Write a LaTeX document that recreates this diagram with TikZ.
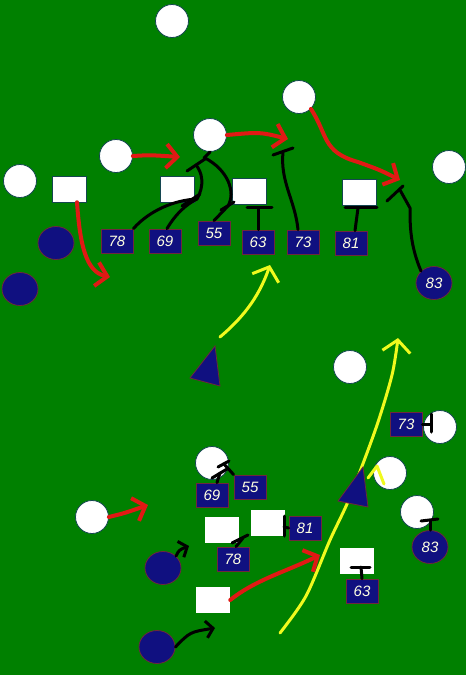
\documentclass[tikz,border=0pt]{standalone}
\usepackage{fontspec}
\setmainfont{Liberation Sans}
\usetikzlibrary{arrows.meta,shapes.geometric}
\definecolor{field}{RGB}{0,128,0}
\definecolor{navyb}{RGB}{16,16,128}
\definecolor{boxedge}{RGB}{110,40,60}
\definecolor{circedge}{RGB}{20,70,80}
\definecolor{redp}{RGB}{225,25,20}
\definecolor{yelp}{RGB}{240,250,30}
\definecolor{numtxt}{RGB}{255,255,225}
\tikzset{
 wcirc/.style={circle,fill=white,draw=circedge,line width=0.8pt,minimum size=33pt,inner sep=0pt},
 wsq/.style={rectangle,fill=white,draw=circedge,line width=0.5pt,minimum width=34pt,minimum height=26pt,inner sep=0pt},
 numfont/.style={text=numtxt,font=\itshape\fontsize{15}{15}\selectfont},
 bcirc/.style={ellipse,fill=navyb,draw=boxedge,line width=0.8pt,minimum width=36pt,minimum height=33pt,inner sep=0pt,numfont},
 nbox/.style={rectangle,fill=navyb,draw=boxedge,line width=0.8pt,minimum width=32pt,minimum height=24pt,inner sep=0pt,numfont},
 redarr/.style={draw=redp,line width=4pt,line cap=round,line join=round,-{Straight Barb[length=11pt,width=24pt]}},
 blk/.style={draw=black,line width=3pt,line cap=round,line join=round},
 blkarr/.style={blk,-{Straight Barb[length=7pt,width=17pt]}},
 yel/.style={draw=yelp,line width=3pt,line cap=round,line join=round},
 yelarr/.style={yel,-{Straight Barb[length=12pt,width=28pt]}},
 tri/.style={fill=navyb,draw=boxedge,line width=0.8pt},
}
\begin{document}
\begin{tikzpicture}[x=1pt,y=-1pt]
\path[fill=field] (0,0) rectangle (466,675);
\useasboundingbox (0,0) rectangle (466,675);

% ---------- top formation ----------
\node[wcirc] (w1) at (172,21) {};
\node[wcirc] (w2) at (299,97) {};
\node[wcirc] (w3) at (210,135) {};
\node[wcirc] (w4) at (116,156) {};
\node[wcirc] (w5) at (20,181) {};
\node[wcirc] (w6) at (449,167) {};
\node[wsq] (s1) at (69,189) {};
\node[wsq] (s2) at (177,189) {};
\node[wsq] (s3) at (249,191) {};
\node[wsq] (s4) at (359,192) {};
\node[bcirc] (b1) at (56,243) {};
\node[bcirc] (b2) at (20,289) {};
\node[bcirc] (b83) at (434,283) {83};
\node[nbox] (n78) at (117,241) {78};
\node[nbox] (n69) at (165,241) {69};
\node[nbox] (n55) at (214,233) {55};
\node[nbox] (n63) at (258,242) {63};
\node[nbox] (n73) at (303,242) {73};
\node[nbox] (n81) at (351,243) {81};

\coordinate (ta) at (215,346);
\coordinate (tb) at (190,378);
\coordinate (tc) at (220,386);
\path[tri] (ta) -- (tb) -- (tc) -- cycle;

% red routes (top)
\draw[redarr] (w4.east) .. controls (150,155) .. (180,157);
\draw[redarr] (w3.east) .. controls (260,132) .. (288,139);
\draw[redarr] (w2.south east) .. controls (328,135) and (322,152) .. (358,162) .. controls (380,170) .. (400,180);
\draw[redarr] ([xshift=8pt]s1.south) .. controls (80,245) and (86,272) .. (110,277);

% black blocks (top)
\coordinate (j1) at (197,199);
\draw[blk] (n78.north east) .. controls (150,210) and (175,200) .. (j1);
\draw[blk] ([xshift=2pt]n69.north) .. controls (175,215) and (185,205) .. (j1);
\draw[blk] (182,206) -- (200,194);
\draw[blk] (j1) .. controls (205,185) and (202,172) .. (196,165);
\draw[blk] (187,171) -- (205,159);
\draw[blk] (w3.south) -- (204,158);
\draw[blk] (205,158) .. controls (228,170) and (236,192) .. (228,206);
\draw[blk] (221,210) -- (234,202);
\draw[blk] (n55.north) -- (228,206);
\draw[blk] (n63.north) -- (258,208);
\draw[blk] (247,207) -- (272,207);
\draw[blk] ([xshift=-5pt]n73.north) .. controls (295,200) and (280,182) .. (283,152);
\draw[blk] (273,155) -- (293,148);
\draw[blk] ([xshift=4pt]n81.north) -- (358,208);
\draw[blk] (345,207) -- (377,207);
\draw[blk] (b83.north west) .. controls (410,245) and (410,225) .. (410,208) -- (400,190);
\draw[blk] (387,201) -- (403,186);

% yellow (top)
\draw[yelarr] ([shift={(5,-9)}]ta) .. controls (240,320) and (258,300) .. (270,265);

% ---------- bottom formation ----------
\coordinate (ys) at (280,633);
\coordinate (ye) at (398,338);
\draw[yelarr] plot[smooth,tension=0.5] coordinates {(ys) (306,596) (330,540) (350,497) (376,428) (392,375) (ye)};

\node[wcirc] (w7) at (350,367) {};
\node[wcirc] (w8) at (440,427) {};
\node[wcirc] (w9) at (390,473) {};
\node[wcirc] (w10) at (417,512) {};
\node[wcirc] (w11) at (212,463) {};
\node[wcirc] (w12) at (92,517) {};
\node[wsq,draw=none] (s5) at (222,530) {};
\node[wsq,draw=none] (s6) at (268,523) {};
\node[wsq,draw=none] (s7) at (357,561) {};
\node[wsq,draw=none] (s8) at (213,600) {};
\node[nbox] (m73) at (406,424) {73};
\node[nbox] (m69) at (212,495) {69};
\node[nbox] (m55) at (250,487) {55};
\node[nbox] (m81) at (305,528) {81};
\node[nbox] (m78) at (233,559) {78};
\node[nbox] (m63) at (362,591) {63};
\node[bcirc] (b83b) at (430,547) {83};
\node[bcirc] (b3) at (163,568) {};
\node[bcirc] (b4) at (157,647) {};

\coordinate (ua) at (363,467);
\coordinate (ub) at (338,501);
\coordinate (uc) at (368,507);
\path[tri] (ua) -- (ub) -- (uc) -- cycle;

% small yellow mark
\draw[yel] (368,478) -- (377,466) -- (384,484);

% red routes (bottom)
\draw[redarr] (w12.east) .. controls (125,513) .. (148,505);
\draw[redarr] (s8.east) .. controls (255,580) and (285,572) .. (320,555);

% black (bottom)
\draw[blkarr] (b4.east) .. controls (190,632) .. (215,628);
\draw[blkarr] (b3.north east) .. controls (179,550) .. (189,546);
\draw[blk] ([xshift=5pt]m69.north) -- (220,473);
\draw[blk] (212,478) -- (227,469);
\draw[blk] (m55.north west) -- (224,464);
\draw[blk] (218,467) -- (229,461);
\draw[blk] ([xshift=3pt]m78.north) -- (243,538);
\draw[blk] (232,543) -- (248,535);
\draw[blk] (m81.west) -- (284,527);
\draw[blk] (284,516) -- (284,536);
\draw[blk] (m73.east) -- (431,424);
\draw[blk] (431,414) -- (431,432);
\draw[blk] (m63.north) -- (361,567);
\draw[blk] (351,567) -- (370,567);
\draw[blk] (b83b.north) -- (430,521);
\draw[blk] (421,521) -- (438,519);
\end{tikzpicture}
\end{document}
